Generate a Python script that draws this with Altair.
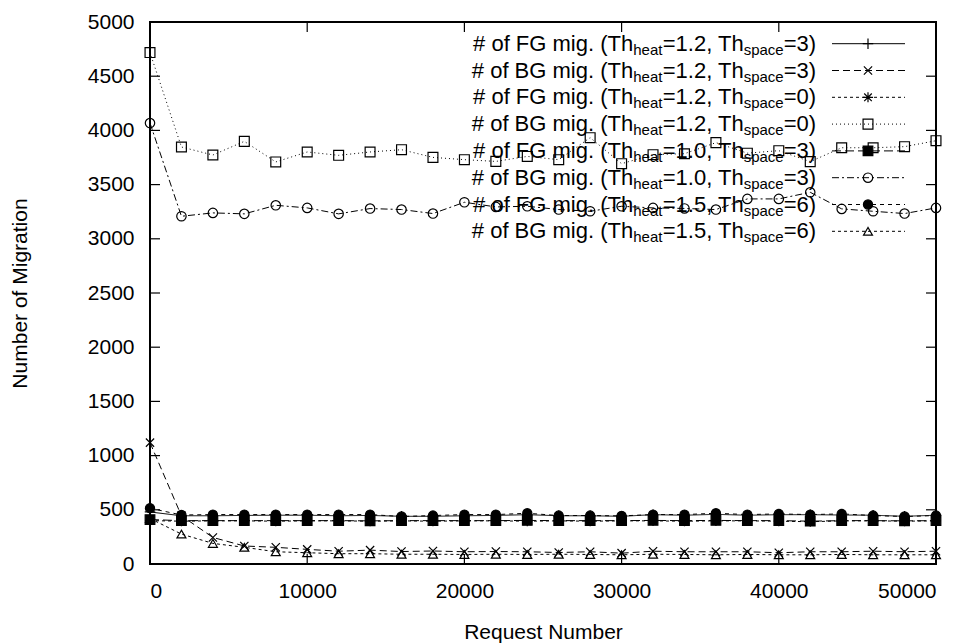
import altair as alt
import pandas as pd

# ---------------- data ----------------
req = [0, 2000, 4000, 6000, 8000, 10000, 12000, 14000, 16000, 18000, 20000, 22000, 24000,
       26000, 28000, 30000, 32000, 34000, 36000, 38000, 40000, 42000, 44000, 46000, 48000, 50000]

fg_12_3 = [480, 445, 445, 448, 450, 450, 445, 448, 440, 440, 445, 448, 455,
           445, 445, 440, 455, 450, 458, 450, 455, 455, 452, 450, 440, 450]
bg_12_3 = [1120, 445, 245, 166, 154, 135, 118, 128, 115, 120, 113, 115, 113,
           106, 113, 100, 118, 113, 113, 113, 104, 113, 113, 118, 113, 118]
fg_12_0 = [400, 395, 398, 398, 395, 398, 398, 395, 398, 395, 398, 398, 395,
           398, 395, 398, 398, 395, 398, 398, 395, 390, 398, 398, 395, 398]
bg_12_0 = [4718, 3847, 3773, 3899, 3709, 3801, 3770, 3801, 3822, 3751, 3730, 3714, 3760,
           3730, 3933, 3693, 3776, 3785, 3887, 3790, 3813, 3712, 3840, 3840, 3850, 3905]
fg_10_3 = [410, 400, 400, 400, 400, 400, 400, 398, 400, 400, 400, 400, 402,
           400, 400, 400, 402, 400, 402, 400, 400, 395, 400, 400, 398, 400]
bg_10_3 = [4068, 3208, 3239, 3230, 3309, 3285, 3230, 3279, 3270, 3233, 3337, 3294, 3300,
           3270, 3254, 3300, 3285, 3280, 3270, 3368, 3368, 3429, 3276, 3254, 3233, 3285]
fg_15_6 = [515, 452, 456, 456, 456, 456, 456, 456, 438, 447, 456, 456, 468,
           447, 447, 444, 456, 456, 468, 456, 462, 456, 462, 447, 438, 447]
bg_15_6 = [420, 276, 190, 154, 113, 104, 95, 95, 90, 90, 88, 90, 88,
           90, 88, 85, 90, 88, 85, 88, 85, 85, 88, 85, 85, 85]

kinds = ["FG", "BG", "FG", "BG", "FG", "BG", "FG", "BG"]
heats = ["1.2", "1.2", "1.2", "1.2", "1.0", "1.0", "1.5", "1.5"]
spaces = ["3", "3", "0", "0", "3", "3", "6", "6"]
series_vals = [fg_12_3, bg_12_3, fg_12_0, bg_12_0, fg_10_3, bg_10_3, fg_15_6, bg_15_6]
names = [f"{k} {h} {s}" for k, h, s in zip(kinds, heats, spaces)]

x_ticks = [0, 10000, 20000, 30000, 40000, 50000]
y_ticks = [0, 500, 1000, 1500, 2000, 2500, 3000, 3500, 4000, 4500, 5000]

# ---------------- layout / style ----------------
W, H = 786, 542
FONT = "Liberation Sans"
PLUS = "M-1,0L1,0M0,-1L0,1"
CROSS = "M-0.8,-0.8L0.8,0.8M-0.8,0.8L0.8,-0.8"
STAR = "M-1,0L1,0M0,-1L0,1M-0.75,-0.75L0.75,0.75M-0.75,0.75L0.75,-0.75"

dash_range = [[1, 0], [7, 4], [3, 3], [1, 3], [9, 4], [7, 3, 2, 3], [4, 4], [3, 3]]
shape_range = [PLUS, CROSS, STAR, "square", "square", "circle", "circle", "triangle-up"]
fill_range = ["transparent", "transparent", "transparent", "transparent",
              "black", "transparent", "black", "transparent"]
size_range = [110, 80, 90, 90, 80, 80, 80, 70]

rows = []
for n, vals in zip(names, series_vals):
    for x, v in zip(req, vals):
        rows.append({"series": n, "req": x, "val": v})
df = pd.DataFrame(rows)

xs = alt.Scale(domain=[0, 50000], nice=False, zero=False)
ys = alt.Scale(domain=[0, 5000], nice=False)
x_axis = alt.Axis(values=x_ticks, title="Request Number", grid=False, ticks=False, domain=False,
                  labelFontSize=21, titleFontSize=21, labelPadding=16, titlePadding=20,
                  labelColor="black", titleColor="black", titleFontWeight="normal",
                  labelFont=FONT, titleFont=FONT, format="d")
y_axis = alt.Axis(values=y_ticks, title="Number of Migration", grid=False, ticks=False, domain=False,
                  labelFontSize=21, titleFontSize=21, labelPadding=16, titlePadding=57,
                  labelColor="black", titleColor="black", titleFontWeight="normal",
                  labelFont=FONT, titleFont=FONT, format="d")


def X():
    return alt.X("req:Q", scale=xs, axis=x_axis)


def Y():
    return alt.Y("val:Q", scale=ys, axis=y_axis)


dash_enc = alt.StrokeDash("series:N", scale=alt.Scale(domain=names, range=dash_range), legend=None)
shape_enc = alt.Shape("series:N", scale=alt.Scale(domain=names, range=shape_range), legend=None)
fill_enc = alt.Fill("series:N", scale=alt.Scale(domain=names, range=fill_range), legend=None)
size_enc = alt.Size("series:N", scale=alt.Scale(domain=names, range=size_range), legend=None)

lines = alt.Chart(df).mark_line(color="black", strokeWidth=1).encode(
    x=X(), y=Y(), strokeDash=dash_enc)
points = alt.Chart(df).mark_point(filled=False, color="black", strokeWidth=1.2, opacity=1).encode(
    x=X(), y=Y(), shape=shape_enc, fill=fill_enc, size=size_enc)

# inward ticks on all four sides
yt = pd.DataFrame({"val": y_ticks})
xt = pd.DataFrame({"req": x_ticks})
tick_len = 10
left_ticks = alt.Chart(yt).mark_rule(color="black", strokeWidth=1.2).encode(
    y=Y(), x=alt.value(0), x2=alt.value(tick_len))
right_ticks = alt.Chart(yt).mark_rule(color="black", strokeWidth=1.2).encode(
    y=Y(), x=alt.value(W - tick_len), x2=alt.value(W))
bottom_ticks = alt.Chart(xt).mark_rule(color="black", strokeWidth=1.2).encode(
    x=X(), y=alt.value(H - tick_len), y2=alt.value(H))
top_ticks = alt.Chart(xt).mark_rule(color="black", strokeWidth=1.2).encode(
    x=X(), y=alt.value(0), y2=alt.value(tick_len))

# ---------------- key (gnuplot style: text right-aligned, sample on the right) ----------------
def px_x(p):
    return p / W * 50000


def px_y(p):
    return (1 - p / H) * 5000


row0, row_step, sub_dy = 21.7, 26.8, 6
piece_right = [483.2, 512.4, 593.7, 633.7, 666.1]
samp_x0, samp_x1, samp_mid = 682, 755, 718

main_rows, sub_rows, samp_rows, sym_rows = [], [], [], []
for i, (n, k, h, s) in enumerate(zip(names, kinds, heats, spaces)):
    ry = row0 + row_step * i
    texts = [f"# of {k} mig. (Th", "heat", f"={h}, Th", "space", f"={s})"]
    for j, t in enumerate(texts):
        if j in (1, 3):
            sub_rows.append({"req": px_x(piece_right[j]), "val": px_y(ry + sub_dy), "text": t})
        else:
            main_rows.append({"req": px_x(piece_right[j]), "val": px_y(ry), "text": t})
    samp_rows.append({"series": n, "req": px_x(samp_x0), "val": px_y(ry)})
    samp_rows.append({"series": n, "req": px_x(samp_x1), "val": px_y(ry)})
    sym_rows.append({"series": n, "req": px_x(samp_mid), "val": px_y(ry)})

key_main = alt.Chart(pd.DataFrame(main_rows)).mark_text(
    align="right", baseline="middle", fontSize=22, font=FONT, color="black").encode(
    x=X(), y=Y(), text="text:N")
key_sub = alt.Chart(pd.DataFrame(sub_rows)).mark_text(
    align="right", baseline="middle", fontSize=15, font=FONT, color="black").encode(
    x=X(), y=Y(), text="text:N")
key_lines = alt.Chart(pd.DataFrame(samp_rows)).mark_line(color="black", strokeWidth=1).encode(
    x=X(), y=Y(), strokeDash=dash_enc)
key_syms = alt.Chart(pd.DataFrame(sym_rows)).mark_point(
    filled=False, color="black", strokeWidth=1.2, opacity=1).encode(
    x=X(), y=Y(), shape=shape_enc, fill=fill_enc, size=size_enc)

chart = alt.layer(
    key_main, key_sub, lines, points, key_lines, key_syms,
    left_ticks, right_ticks, bottom_ticks, top_ticks
).properties(
    width=W, height=H,
    autosize=alt.AutoSizeParams(type="none"),
    padding={"left": 150, "top": 22, "right": 30, "bottom": 79},
    background="white"
).configure_view(
    stroke="black", strokeWidth=2
).configure_text(font=FONT)

chart.save("out.html", embed_options={"renderer": "svg", "actions": False})
